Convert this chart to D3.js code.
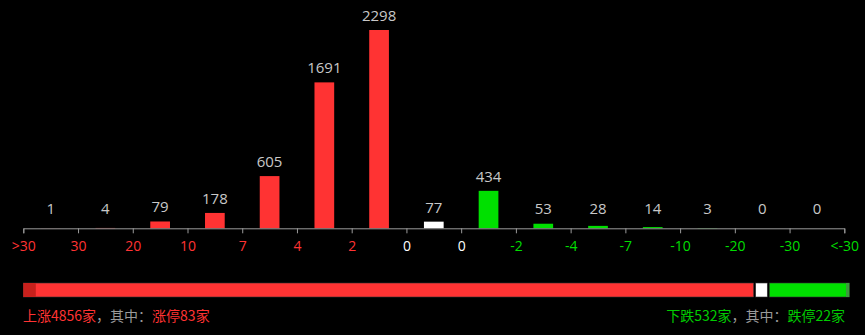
<!DOCTYPE html>
<html>
<head>
<meta charset="utf-8">
<script src="https://cdn.jsdelivr.net/npm/d3@7"></script>
<style>
  html, body { margin:0; padding:0; background:#000; }
  svg { display:block; }
</style>
</head>
<body>
<div id="vis"></div>
<script>
/* Data */
const tickLabels = [">30","30","20","10","7","4","2","0","0","-2","-4","-7","-10","-20","-30","<-30"];
const tickKinds  = ["up","up","up","up","up","up","up","flat","flat","down","down","down","down","down","down","down"];
const barValues  = [1,4,79,178,605,1691,2298,77,434,53,28,14,3,0,0];
const barKinds   = ["up","up","up","up","up","up","up","flat","down","down","down","down","down","down","down"];

/* summary bar: up / limit-up / flat / down / limit-down */
const upCount = 4856, limitUp = 83, flatCount = 77, downCount = 532, limitDown = 22;

/* Colours */
const RED = "#ff3333", GREEN = "#00e000", WHITE = "#ffffff";
const colourOf = k => k==="up" ? RED : k==="down" ? GREEN : WHITE;
const tickColour = k => k==="up" ? "#ff3333" : k==="down" ? "#00dd00" : "#ffffff";

const W = 865, H = 335;
const left = 23.3, right = 844.3, baseY = 228.3;

const svg = d3.select("#vis").append("svg").attr("width",W).attr("height",H);

/* Scales */
const x = d3.scaleBand().domain(d3.range(barValues.length))
    .range([left,right]).paddingInner(0.64).paddingOuter(0.32);
const y = d3.scaleLinear().domain([0,2298]).range([baseY,30]);

/* Bars */
svg.append("g").selectAll("rect").data(barValues).join("rect")
    .attr("x",(d,i)=>x(i)).attr("width",x.bandwidth())
    .attr("y",d=>y(d)).attr("height",d=>baseY-y(d))
    .attr("fill",(d,i)=>colourOf(barKinds[i]));

/* Value labels */
svg.append("g").selectAll("text").data(barValues).join("text")
    .attr("x",(d,i)=>x(i)+x.bandwidth()/2)
    .attr("y",d=>Math.min(y(d),baseY-5)-9)
    .attr("text-anchor","middle")
    .attr("fill","#c8c8c8")
    .style("font-family","'Open Sans','DejaVu Sans',sans-serif")
    .style("font-size","15px")
    .text(d=>d);

/* Axis */
const axisScale = d3.scaleLinear().domain([0,barValues.length]).range([left,right]);
const axis = d3.axisBottom(axisScale).tickValues(d3.range(tickLabels.length))
    .tickSize(5).tickFormat(i=>tickLabels[i]);
const ax = svg.append("g").attr("transform",`translate(0,${baseY})`).call(axis);
ax.select(".domain").attr("stroke","#9a9a9a");
ax.selectAll(".tick line").attr("stroke","#9a9a9a");
ax.selectAll(".tick text")
    .attr("y",13)
    .attr("fill",i=>tickColour(tickKinds[i]))
    .style("font-family","'Open Sans','DejaVu Sans',sans-serif")
    .style("font-size","14px");

/* Summary bar */
const barTop = 283, barH = 14, sx0 = 23.3, sx1 = 849.3, gap = 2;
const total = upCount + flatCount + downCount;
const sx = d3.scaleLinear().domain([0,total]).range([sx0, sx1 - 2*gap]);
const segs = [
  {x0:0, x1:upCount, off:0, fill:RED},
  {x0:upCount, x1:upCount+flatCount, off:gap, fill:WHITE},
  {x0:upCount+flatCount, x1:total, off:2*gap, fill:GREEN}
];
const sg = svg.append("g");
sg.selectAll("rect.seg").data(segs).join("rect").attr("class","seg")
    .attr("x",d=>sx(d.x0)+d.off).attr("width",d=>sx(d.x1)-sx(d.x0))
    .attr("y",barTop).attr("height",barH)
    .attr("fill",d=>d.fill).attr("stroke","#333").attr("stroke-width",0.6);
/* limit up / limit down parts */
sg.append("rect").attr("x",sx(0)).attr("width",sx(limitUp)-sx(0))
    .attr("y",barTop).attr("height",barH).attr("fill","#c8201c");
const ldW = sx(limitDown)-sx(0);
sg.append("rect").attr("x",sx(total)+2*gap-ldW).attr("width",ldW)
    .attr("y",barTop).attr("height",barH).attr("fill","#3c9a3c");

/* Summary text */
const font = "'Noto Sans CJK SC',sans-serif";
const lt = svg.append("text").attr("x",23).attr("y",321)
    .style("font-family",font).style("font-size","14px");
lt.append("tspan").attr("fill","#ff3333").text(`上涨${upCount}家`);
lt.append("tspan").attr("fill","#9a9a9a").text("，其中：");
lt.append("tspan").attr("fill","#ff3333").text(`涨停${limitUp}家`);

const rt = svg.append("text").attr("x",845).attr("y",321).attr("text-anchor","end")
    .style("font-family",font).style("font-size","14px");
rt.append("tspan").attr("fill","#00cc00").text(`下跌${downCount}家`);
rt.append("tspan").attr("fill","#9a9a9a").text("，其中：");
rt.append("tspan").attr("fill","#00cc00").text(`跌停${limitDown}家`);
</script>
</body>
</html>
